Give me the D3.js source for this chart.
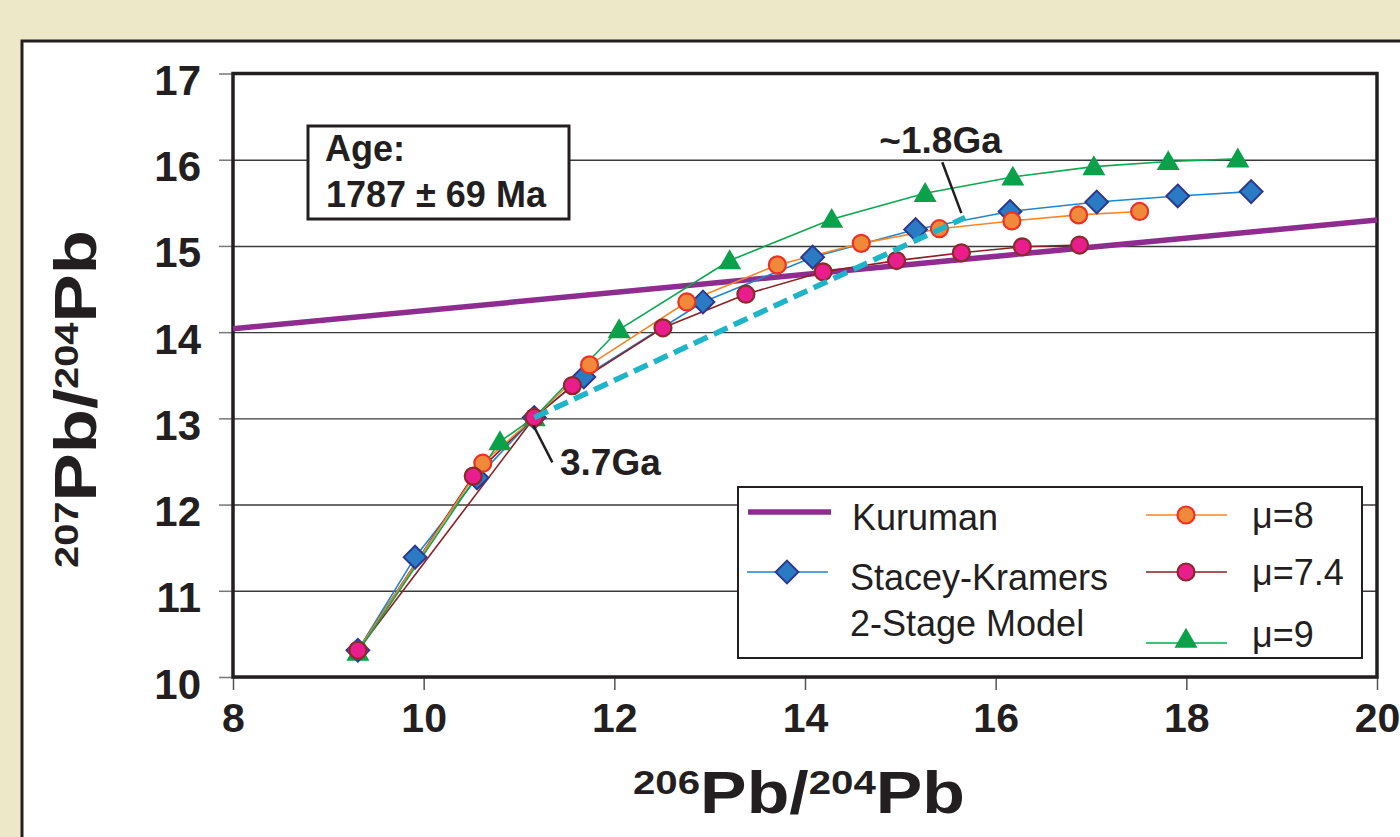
<!DOCTYPE html>
<html>
<head>
<meta charset="utf-8">
<script src="https://cdn.jsdelivr.net/npm/d3@7"></script>
<style>
  html, body { margin: 0; padding: 0; background: #ede8c8; }
  svg { display: block; }
  text { font-family: "Liberation Sans", Arial, sans-serif; fill: #231f20; }
</style>
</head>
<body>
<svg width="1400" height="837"></svg>
<script>
// ---- data ----
var xTicks = [8, 10, 12, 14, 16, 18, 20];
var yTicks = [10, 11, 12, 13, 14, 15, 16, 17];

// Kuruman reference line
var kurumanX = [8, 20];
var kurumanY = [14.04, 15.30];

// Stacey-Kramers 2-stage model
var skX = [9.31, 9.91, 10.56, 11.16, 11.68, 12.93, 14.08, 15.16, 16.15, 17.06, 17.91, 18.68];
var skY = [10.31, 11.39, 12.31, 13.01, 13.48, 14.35, 14.87, 15.19, 15.40, 15.51, 15.58, 15.63];

// mu = 8
var mu8X = [9.31, 10.62, 11.16, 11.74, 12.76, 13.71, 14.59, 15.41, 16.17, 16.87, 17.51];
var mu8Y = [10.31, 12.48, 13.01, 13.62, 14.35, 14.78, 15.03, 15.20, 15.29, 15.36, 15.40];

// mu = 7.4
var mu74X = [9.31, 10.52, 11.16, 11.56, 12.51, 13.38, 14.19, 14.96, 15.64, 16.28, 16.88];
var mu74Y = [10.31, 12.33, 13.01, 13.38, 14.05, 14.44, 14.70, 14.83, 14.92, 14.99, 15.01];
// thin straight maroon segment from the start to 3.7 Ga
var mu74DirectX = [9.31, 11.16];
var mu74DirectY = [10.31, 13.01];

// mu = 9
var mu9X = [9.31, 10.80, 11.16, 12.05, 13.21, 14.28, 15.26, 16.18, 17.03, 17.81, 18.54];
var mu9Y = [10.29, 12.73, 13.01, 14.03, 14.83, 15.31, 15.61, 15.80, 15.92, 15.98, 16.01];

// secondary isochron 3.7 Ga -> ~1.8 Ga
var isoX = [11.16, 15.68];
var isoY = [13.01, 15.33];

function zipXY(xs, ys) {
    return xs.map(function (d, i) { return {x: d, y: ys[i]}; });
}

var svg = d3.select("svg");

// white panel
svg.append("rect")
        .attr("x", 22).attr("y", 41)
        .attr("width", 1400).attr("height", 820)
        .attr("fill", "#fff")
        .attr("stroke", "#231f20")
        .attr("stroke-width", 3);

var x = d3.scaleLinear().domain([8, 20]).range([233, 1377]);
var y = d3.scaleLinear().domain([10, 17]).range([677, 73.5]);

// gridlines
svg.append("g")
        .attr("transform", "translate(233,0)")
        .call(d3.axisRight(y).tickValues(yTicks).tickSize(1377 - 233).tickFormat(""))
        .call(function (g) {
            g.select(".domain").remove();
            g.selectAll("line").attr("stroke", "#3a3a3a").attr("stroke-width", 1.4);
        });

// y axis ticks and labels
svg.append("g")
        .attr("transform", "translate(233,0)")
        .call(d3.axisLeft(y).tickValues(yTicks).tickFormat(d3.format("d")).tickSize(14).tickPadding(18))
        .call(function (g) {
            g.select(".domain").remove();
            g.selectAll("line").attr("stroke", "#777").attr("stroke-width", 1.5);
            g.selectAll("text")
                    .attr("dy", "0.5em")
                    .style("font-size", "42px")
                    .style("font-weight", "bold")
                    .attr("fill", "#231f20");
        });

// x axis ticks and labels
svg.append("g")
        .attr("transform", "translate(0,677)")
        .call(d3.axisBottom(x).tickValues(xTicks).tickFormat(d3.format("d")).tickSize(13).tickPadding(13))
        .call(function (g) {
            g.select(".domain").remove();
            g.selectAll("line").attr("stroke", "#555").attr("stroke-width", 1.5);
            g.selectAll("text")
                    .style("font-size", "41px")
                    .style("font-weight", "bold")
                    .attr("fill", "#231f20");
        });

// plot frame
svg.append("rect")
        .attr("x", 233).attr("y", 73.5)
        .attr("width", 1377 - 233).attr("height", 677 - 73.5)
        .attr("fill", "none")
        .attr("stroke", "#231f20")
        .attr("stroke-width", 3.5);

var line = d3.line().x(function (d) { return x(d.x); }).y(function (d) { return y(d.y); });

// Kuruman
svg.append("path")
        .attr("d", line(zipXY(kurumanX, kurumanY)))
        .attr("fill", "none").attr("stroke", "#8e2c8f").attr("stroke-width", 5.5);

// series lines
var series = [
    {xs: skX, ys: skY, color: "#1f86d1"},
    {xs: mu74DirectX, ys: mu74DirectY, color: "#8b1f22"},
    {xs: mu74X, ys: mu74Y, color: "#8b1f22"},
    {xs: mu8X, ys: mu8Y, color: "#f5862a"},
    {xs: mu9X, ys: mu9Y, color: "#0aa84f"}
];
series.forEach(function (s) {
    svg.append("path")
            .attr("d", line(zipXY(s.xs, s.ys)))
            .attr("fill", "none").attr("stroke", s.color).attr("stroke-width", 1.6);
});

var diamond = d3.symbol().type(d3.symbolDiamond2).size(330);
var triangle = d3.symbol().type(d3.symbolTriangle).size(230);

function drawDiamonds(g, pts) {
    g.selectAll(null).data(pts).enter().append("path")
            .attr("d", diamond)
            .attr("transform", function (d) { return "translate(" + x(d.x) + "," + y(d.y) + ")"; })
            .attr("fill", "#2a7bc4").attr("stroke", "#2b3990").attr("stroke-width", 2);
}
function drawCircles(g, pts, fill, stroke) {
    g.selectAll(null).data(pts).enter().append("circle")
            .attr("cx", function (d) { return x(d.x); })
            .attr("cy", function (d) { return y(d.y); })
            .attr("r", 8.5)
            .attr("fill", fill).attr("stroke", stroke).attr("stroke-width", 2.2);
}
function drawTriangles(g, pts) {
    g.selectAll(null).data(pts).enter().append("path")
            .attr("d", triangle)
            .attr("transform", function (d) { return "translate(" + x(d.x) + "," + (y(d.y) + 2) + ")"; })
            .attr("fill", "#0aa14b");
}

var marks = svg.append("g");
drawTriangles(marks, zipXY(mu9X, mu9Y));
drawDiamonds(marks, zipXY(skX, skY));
drawCircles(marks, zipXY(mu8X, mu8Y), "#f08a3a", "#ee3124");
drawCircles(marks, zipXY(mu74X, mu74Y), "#e91e8c", "#8b2a2a");

// isochron dashed
svg.append("path")
        .attr("d", line(zipXY(isoX, isoY)))
        .attr("fill", "none").attr("stroke", "#1fb5c9")
        .attr("stroke-width", 5.5).attr("stroke-dasharray", "15,7");

// annotations
var annos = [
    {label: "~1.8Ga", tx: 14.78, ty: 16.08, x1: 15.44, y1: 15.97, x2: 15.64, y2: 15.38},
    {label: "3.7Ga", tx: 11.43, ty: 12.34, x1: 11.15, y1: 12.92, x2: 11.35, y2: 12.49}
];
annos.forEach(function (a) {
    svg.append("line")
            .attr("x1", x(a.x1)).attr("y1", y(a.y1))
            .attr("x2", x(a.x2)).attr("y2", y(a.y2))
            .attr("stroke", "#231f20").attr("stroke-width", 2.5);
    svg.append("text")
            .attr("x", x(a.tx)).attr("y", y(a.ty))
            .style("font-size", "37px").style("font-weight", "bold")
            .text(a.label);
});

// age box
svg.append("rect")
        .attr("x", 308).attr("y", 126).attr("width", 261).attr("height", 93)
        .attr("fill", "#fff").attr("stroke", "#231f20").attr("stroke-width", 3);
svg.append("text").attr("x", 325).attr("y", 161)
        .style("font-size", "36px").style("font-weight", "bold").text("Age:");
svg.append("text").attr("x", 326).attr("y", 207)
        .style("font-size", "36px").style("font-weight", "bold").text("1787 ± 69 Ma");

// legend
var leg = svg.append("g");
leg.append("rect")
        .attr("x", 738).attr("y", 487).attr("width", 624).attr("height", 171)
        .attr("fill", "#fff").attr("stroke", "#231f20").attr("stroke-width", 2);

leg.append("line").attr("x1", 748).attr("x2", 831).attr("y1", 512).attr("y2", 512)
        .attr("stroke", "#8e2c8f").attr("stroke-width", 5.5);
leg.append("text").attr("x", 852).attr("y", 530).style("font-size", "36px").text("Kuruman");

leg.append("line").attr("x1", 747).attr("x2", 828).attr("y1", 572).attr("y2", 572)
        .attr("stroke", "#1f86d1").attr("stroke-width", 1.6);
drawDiamonds(leg, [{x: x.invert(787), y: y.invert(572)}]);
leg.append("text").attr("x", 850).attr("y", 590).style("font-size", "36px").text("Stacey-Kramers");
leg.append("text").attr("x", 850).attr("y", 636).style("font-size", "36px").text("2-Stage Model");

var muLeg = [
    {label: "μ=8", ly: 515, ty: 528, color: "#f5862a", kind: "mu8"},
    {label: "μ=7.4", ly: 572, ty: 585, color: "#8b1f22", kind: "mu74"},
    {label: "μ=9", ly: 643, ty: 647, color: "#0aa84f", kind: "mu9"}
];
muLeg.forEach(function (m) {
    leg.append("line").attr("x1", 1146).attr("x2", 1227).attr("y1", m.ly).attr("y2", m.ly)
            .attr("stroke", m.color).attr("stroke-width", 1.6);
    var p = [{x: x.invert(1186), y: y.invert(m.ly)}];
    if (m.kind === "mu8") drawCircles(leg, p, "#f08a3a", "#ee3124");
    if (m.kind === "mu74") drawCircles(leg, p, "#e91e8c", "#8b2a2a");
    if (m.kind === "mu9") drawTriangles(leg, [{x: p[0].x, y: y.invert(m.ly - 4)}]);
    leg.append("text").attr("x", 1252).attr("y", m.ty).style("font-size", "36px").text(m.label);
});

// axis titles
function isoLabel(t, sup1, sup2, size, supSize) {
    t.style("font-weight", "bold").style("font-size", size + "px");
    t.append("tspan").attr("baseline-shift", "super").style("font-size", supSize + "px").text(sup1);
    t.append("tspan").text("Pb/");
    t.append("tspan").attr("baseline-shift", "super").style("font-size", supSize + "px").text(sup2);
    t.append("tspan").text("Pb");
}
var xt = svg.append("text").attr("x", 633).attr("y", 813);
isoLabel(xt, "206", "204", 59, 34);
xt.attr("textLength", 332).attr("lengthAdjust", "spacingAndGlyphs");

var yt = svg.append("text").attr("transform", "translate(96,568) rotate(-90)");
isoLabel(yt, "207", "204", 60, 33);
yt.attr("textLength", 338).attr("lengthAdjust", "spacingAndGlyphs");
</script>
</body>
</html>
